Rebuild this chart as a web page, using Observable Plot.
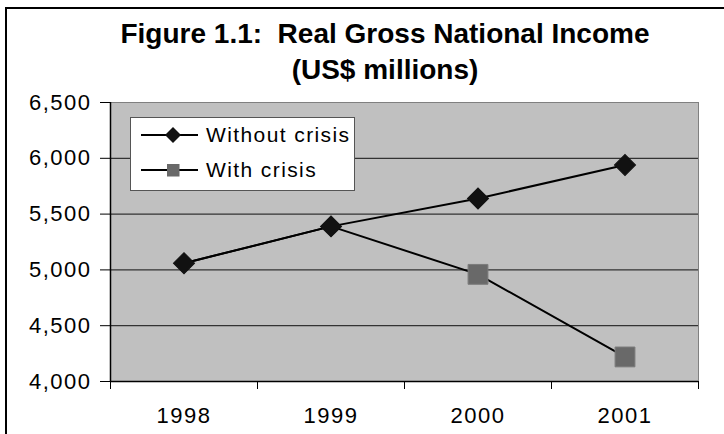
<!DOCTYPE html>
<html>
<head>
<meta charset="utf-8">
<script src="https://cdn.jsdelivr.net/npm/d3@7"></script>
<script src="https://cdn.jsdelivr.net/npm/@observablehq/plot@0.6"></script>
<style>
  html, body { margin: 0; padding: 0; background: #fff; }
  body { width: 724px; height: 434px; overflow: hidden; font-family: "Liberation Sans", Arial, sans-serif; }
  #wrap { position: relative; width: 724px; height: 434px; }
  #border { position: absolute; left: 5px; top: 7px; width: 900px; height: 600px; border: 2px solid #000; }
  #chart { position: absolute; left: 0; top: 0; }
  #title { position: absolute; left: 6px; width: 758px; top: 16px; text-align: center;
           font-weight: bold; font-size: 28px; line-height: 36px; color: #000; }
  #legend { position: absolute; left: 130px; top: 117px; }
  #legend svg { display: block; overflow: visible; }
</style>
</head>
<body>
<div id="wrap">
  <div id="border"></div>
  <div id="chart"></div>
  <div id="title">Figure 1.1:&nbsp; Real Gross National Income<br>(US$ millions)</div>
  <div id="legend"></div>
</div>
<script>
// Real Gross National Income, US$ millions
const years = [1998, 1999, 2000, 2001];
const withoutCrisis = [5060, 5390, 5640, 5940];
const withCrisis = [5060, 5390, 4960, 4220];
const yTicks = [4000, 4500, 5000, 5500, 6000, 6500];
const seriesNames = ["Without crisis", "With crisis"];

const rowsWithout = years.map((year, i) => ({year, value: withoutCrisis[i]}));
const rowsWith = years.map((year, i) => ({year, value: withCrisis[i]}));
// square markers only where the crisis path leaves the baseline path
const rowsWithDiverged = rowsWith.filter((d, i) => d.value !== withoutCrisis[i]);
// category boundaries, where the x-axis tick marks sit
const yearEdges = years.map(y => y - 0.5).concat([years[years.length - 1] + 0.5]);

const chart = Plot.plot({
  width: 724,
  height: 434,
  marginTop: 102,
  marginRight: 26,
  marginBottom: 53,
  marginLeft: 110,
  style: {background: "transparent", fontFamily: "'Liberation Sans', Arial, sans-serif", fontSize: "22px", color: "#000", overflow: "visible"},
  x: {type: "linear", domain: [yearEdges[0], yearEdges[yearEdges.length - 1]]},
  y: {domain: [yTicks[0], yTicks[yTicks.length - 1]]},
  marks: [
    Plot.frame({fill: "#c0c0c0", stroke: "#808080"}),
    Plot.ruleY(yTicks.slice(1, -1), {stroke: "#333", strokeWidth: 1.2}),
    Plot.ruleX([yearEdges[0]], {stroke: "#000", strokeWidth: 1.5}),
    Plot.ruleY([yTicks[0]], {stroke: "#000", strokeWidth: 1.5}),
    Plot.axisY({ticks: yTicks, tickFormat: d3.format(","), tickSize: 10, tickPadding: 9, label: null}),
    Plot.axisX({ticks: yearEdges, tickFormat: () => "", tickSize: 8, label: null}),
    Plot.axisX({ticks: years, tickFormat: d => String(d), tickSize: 0, tickPadding: 26, label: null}),
    Plot.line(rowsWith, {x: "year", y: "value", stroke: "#000", strokeWidth: 2}),
    Plot.dot(rowsWithDiverged, {x: "year", y: "value", symbol: "square", r: 11.2, fill: "#696969", stroke: "#7c7c7c", strokeWidth: 1}),
    Plot.line(rowsWithout, {x: "year", y: "value", stroke: "#000", strokeWidth: 2}),
    Plot.dot(rowsWithout, {x: "year", y: "value", symbol: "square", r: 8.4, rotate: 45, fill: "#111", stroke: "#111", strokeWidth: 1})
  ]
});
chart.querySelectorAll("text").forEach(t => t.setAttribute("letter-spacing", "1.5"));
document.getElementById("chart").append(chart);

// legend: white box, swatch line with marker, then series name
const lg = d3.select("#legend").append("svg").attr("width", 225).attr("height", 75);
lg.append("rect").attr("x", 0.5).attr("y", 0.5).attr("width", 224).attr("height", 73)
  .attr("fill", "#fff").attr("stroke", "#555");
const swatches = [
  {name: seriesNames[0], shape: "diamond"},
  {name: seriesNames[1], shape: "square"}
];
swatches.forEach((s, i) => {
  const cy = 18 + i * 35;
  lg.append("line").attr("x1", 11).attr("x2", 68).attr("y1", cy).attr("y2", cy)
    .attr("stroke", "#000").attr("stroke-width", 2);
  if (s.shape === "diamond") {
    lg.append("path").attr("d", `M43,${cy - 8}L51,${cy}L43,${cy + 8}L35,${cy}Z`).attr("fill", "#111");
  } else {
    lg.append("rect").attr("x", 37).attr("y", cy - 6).attr("width", 12.5).attr("height", 12.5).attr("fill", "#696969");
  }
  lg.append("text").attr("x", 76).attr("y", cy + 6.5)
    .attr("font-family", "'Liberation Sans', Arial, sans-serif").attr("font-size", 21)
    .attr("letter-spacing", 1.4).attr("fill", "#000").text(s.name);
});
</script>
</body>
</html>
